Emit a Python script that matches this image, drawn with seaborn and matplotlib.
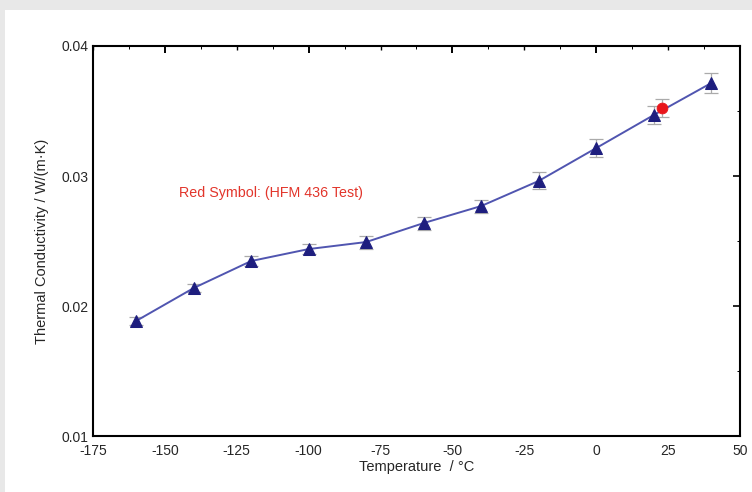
import matplotlib
matplotlib.use("Agg")
import matplotlib.pyplot as plt
import seaborn as sns
import pandas as pd
from matplotlib.patches import Rectangle
from matplotlib.ticker import MultipleLocator

# values
temperature = [-160, -140, -120, -100, -80, -60, -40, -20, 0, 20, 40]
conductivity = [0.01885, 0.02138, 0.02346, 0.02438, 0.02492, 0.02638,
                0.02769, 0.02962, 0.03215, 0.03469, 0.03715]
errors = [0.0003, 0.0003, 0.0004, 0.0004, 0.0005, 0.0005,
          0.0005, 0.00065, 0.0007, 0.0007, 0.0008]
hfm_temp = [23]
hfm_value = [0.03523]
hfm_err = [0.0007]
x_ticks = [-175, -150, -125, -100, -75, -50, -25, 0, 25, 50]
y_ticks = [0.01, 0.02, 0.03, 0.04]

df = pd.DataFrame({"Temperature": temperature, "Conductivity": conductivity})

sns.set_style("white")
plt.rcParams["font.family"] = ["Liberation Sans", "DejaVu Sans"]

fig = plt.figure(figsize=(7.52, 4.92), dpi=100)
fig.patch.set_facecolor("#e8e8e8")
fig.patches.append(Rectangle((5 / 752, 0), 1, 1 - 10 / 492, transform=fig.transFigure,
                             facecolor="white", edgecolor="none", zorder=-10))
ax = fig.add_axes([93 / 752, 1 - 436 / 492, 647 / 752, 390 / 492])
ax.set_facecolor("white")

ax.errorbar(temperature, conductivity, yerr=errors, fmt="none", ecolor="#aaaaaa",
            elinewidth=0.9, capsize=5, capthick=0.9, zorder=2)
ax.errorbar(hfm_temp, hfm_value, yerr=hfm_err, fmt="none", ecolor="#aaaaaa",
            elinewidth=0.9, capsize=5, capthick=0.9, zorder=2)
sns.lineplot(data=df, x="Temperature", y="Conductivity", ax=ax, color="#5055b0",
             linewidth=1.4, marker="^", markersize=8.5, markerfacecolor="#1e1e7e",
             markeredgecolor="#1e1e7e", zorder=3)
sns.scatterplot(x=hfm_temp, y=hfm_value, ax=ax, color="#e8151b", s=60,
                marker="o", edgecolor="#e8151b", zorder=4)

ax.text(-145, 0.0287, "Red Symbol: (HFM 436 Test)", color="#e2352b", fontsize=10.3,
        va="center")

ax.set_xlim(-175, 50)
ax.set_ylim(0.01, 0.04)
ax.xaxis.set_minor_locator(MultipleLocator(12.5))
ax.yaxis.set_minor_locator(MultipleLocator(0.005))
ax.set_xticks(x_ticks)
ax.set_xticklabels([str(t) for t in x_ticks])
ax.set_yticks(y_ticks)
ax.set_yticklabels([f"{t:.2f}" for t in y_ticks])
ax.tick_params(which="both", direction="in", top=True, right=True, labelsize=10,
               color="black")
ax.tick_params(axis="x", which="major", pad=6)
ax.tick_params(which="major", length=3, width=1.0)
ax.tick_params(which="minor", length=2.5, width=0.7)
ax.tick_params(axis="y", which="major", length=5, width=1.2)
# the 50-degree ticks are drawn heavier
for tick, val in zip(ax.xaxis.get_major_ticks(), x_ticks):
    if val % 50 == 0:
        for ln in (tick.tick1line, tick.tick2line):
            ln.set_markersize(5)
            ln.set_markeredgewidth(1.4)
for s in ax.spines.values():
    s.set_color("black")
    s.set_linewidth(1.5)

ax.set_xlabel("Temperature  / °C", fontsize=10.5, labelpad=1)
ax.set_ylabel("Thermal Conductivity / W/(m·K)", fontsize=10.5, labelpad=9)

fig.savefig("out.png", dpi=100, facecolor=fig.get_facecolor())
